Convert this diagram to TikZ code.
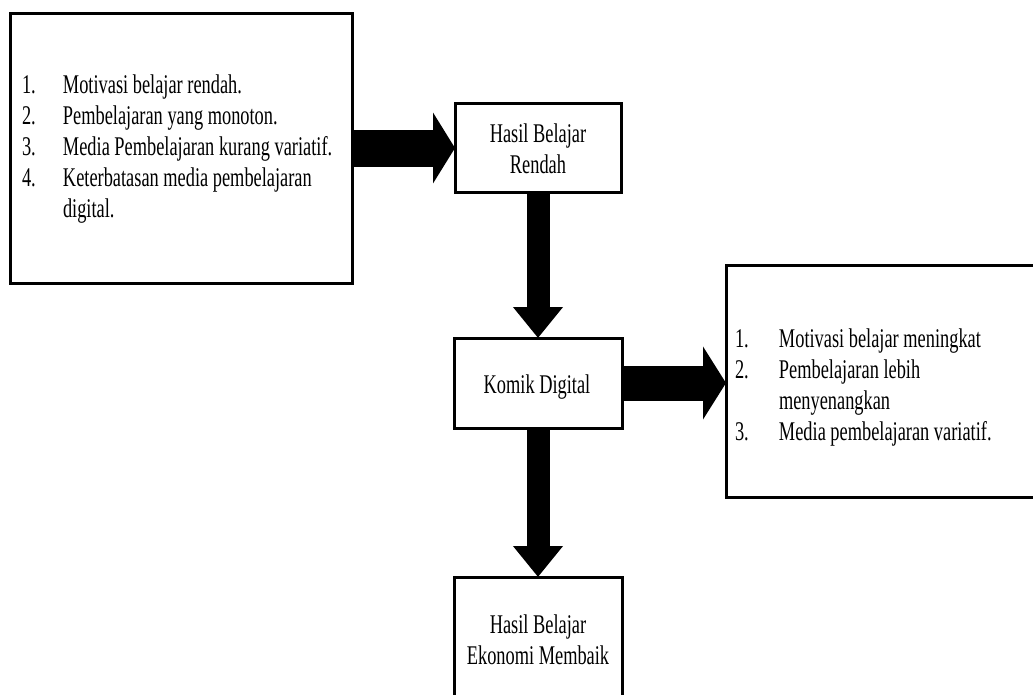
\documentclass[tikz,border=0pt]{standalone}
\usepackage{fontspec}
\usetikzlibrary{arrows.meta}
\newfontfamily\tnr[FakeStretch=0.68]{Liberation Serif}
\begin{document}
\begin{tikzpicture}[x=1pt,y=-1pt,
  box/.style={draw=black, line width=3pt, fill=white, inner sep=0pt, outer sep=0pt},
  txt/.style={inner sep=0pt, outer sep=0pt, font=\tnr\fontsize{27}{31}\selectfont},
  hbig/.style={line width=37pt, -{Triangle[length=22pt, width=70pt]}},
  hbigb/.style={line width=35pt, -{Triangle[length=23pt, width=72pt]}},
  vbig/.style={line width=23pt, -{Triangle[length=31pt, width=48pt]}}
]
\useasboundingbox (0,0) rectangle (1033,694);
\clip (0,0) rectangle (1033,694);
\fill[white] (0,0) rectangle (1033,694);

% boxes
\node[box, minimum width=342pt, minimum height=270pt] (b1) at (181,148) {};
\node[box, minimum width=166pt, minimum height=89pt] (b2) at (538,147.5) {};
\node[box, minimum width=168pt, minimum height=90pt] (b3) at (538,383) {};
\node[box, minimum width=319pt, minimum height=232pt] (b4) at (885.5,381) {};
\node[box, minimum width=168pt, minimum height=143pt] (b5) at (538,648.5) {};

% arrows
\draw[hbig] (b1.east) -- (b1.east -| b2.west);
\draw[vbig] (b2.south) -- (b3.north);
\draw[vbig] (b3.south) -- (b5.north);
\draw[hbigb] (b3.east) -- (b3.east -| b4.west);

% texts
\node[txt, anchor=base west] (t1) at (22,93) {%
\begin{tabular}[t]{@{}p{41pt}@{}l@{}}
1. & Motivasi belajar rendah.\\
2. & Pembelajaran yang monoton.\\
3. & Media Pembelajaran kurang variatif.\\
4. & Keterbatasan media pembelajaran\\
   & digital.
\end{tabular}};
\node[txt, anchor=base] (t2) at (538,142) {%
\begin{tabular}[t]{@{}c@{}}Hasil Belajar\\Rendah\end{tabular}};
\node[txt, anchor=base] (t3) at (537,393) {Komik Digital};
\node[txt, anchor=base] (t5) at (538,633) {%
\begin{tabular}[t]{@{}c@{}}Hasil Belajar\\Ekonomi Membaik\end{tabular}};
\node[txt, anchor=base west] (t4) at (735,347) {%
\begin{tabular}[t]{@{}p{44pt}@{}l@{}}
1. & Motivasi belajar meningkat\\
2. & Pembelajaran lebih\\
   & menyenangkan\\
3. & Media pembelajaran variatif.
\end{tabular}};
\end{tikzpicture}
\end{document}
